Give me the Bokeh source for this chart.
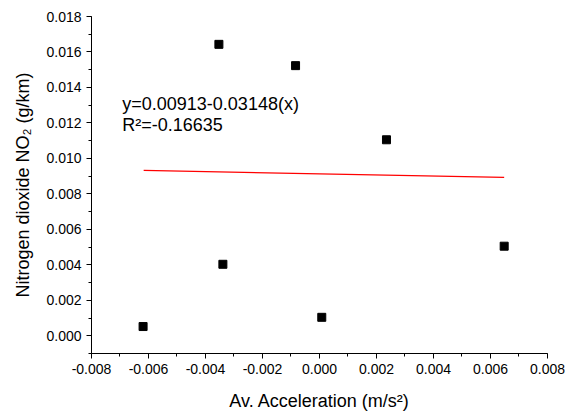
import numpy as np
from bokeh.plotting import figure
from bokeh.models import Range1d, SingleIntervalTicker, PrintfTickFormatter, Label
from bokeh.embed import file_html
from bokeh.resources import INLINE

# measured points: average acceleration vs NO2 emission
accel = [-0.00619, -0.00339, 0.00008, -0.00353, -0.00084, 0.00235, 0.00648]
no2 = [0.00052, 0.00403, 0.00104, 0.01643, 0.01523, 0.01105, 0.00505]

# end points of the fitted line, as drawn
fit_x = [-0.00617, 0.00648]
fit_y = [0.00932, 0.00893]

eq_text = "y=0.00913-0.03148(x)"
r2_text = "R\u00b2=-0.16635"

FONT = "Liberation Sans"

p = figure(frame_width=456, frame_height=337,
           x_range=Range1d(-0.008, 0.0080001), y_range=Range1d(-0.001, 0.0180001),
           output_backend="svg", toolbar_location=None,
           min_border_left=91, min_border_right=20,
           min_border_top=16, min_border_bottom=58)

p.scatter(accel, no2, marker="square", size=8, color="black")
p.line(fit_x, fit_y, color="red", line_width=1.2)

p.add_layout(Label(x=-0.00692, y=0.01308, text=eq_text, text_baseline="middle",
                   text_font=FONT, text_font_size="18px", text_color="black"))
p.add_layout(Label(x=-0.00692, y=0.01188, text=r2_text, text_baseline="middle",
                   text_font=FONT, text_font_size="18px", text_color="black"))

# axes look
p.grid.visible = False
p.outline_line_color = None
p.background_fill_color = "white"

p.xaxis.ticker = SingleIntervalTicker(interval=0.002, num_minor_ticks=2)
p.yaxis.ticker = SingleIntervalTicker(interval=0.002, num_minor_ticks=2)
p.xaxis.formatter = PrintfTickFormatter(format="%.3f")
p.yaxis.formatter = PrintfTickFormatter(format="%.3f")

p.xaxis.axis_label = "Av. Acceleration (m/s\u00b2)"
p.yaxis.axis_label = "Nitrogen dioxide NO\u2082 (g/km)"

for ax in (p.xaxis, p.yaxis):
    ax.axis_line_color = "black"
    ax.major_tick_line_color = "black"
    ax.minor_tick_line_color = "black"
    ax.major_tick_in = 0
    ax.major_tick_out = 5
    ax.minor_tick_in = 0
    ax.minor_tick_out = 3
    ax.major_label_text_font = FONT
    ax.major_label_text_font_size = "14px"
    ax.major_label_text_color = "black"
    ax.axis_label_text_font = FONT
    ax.axis_label_text_font_size = "18px"
    ax.axis_label_text_font_style = "normal"
    ax.axis_label_text_color = "black"

p.xaxis.major_label_standoff = 5
p.xaxis.axis_label_standoff = 14
p.yaxis.major_label_standoff = 5
p.yaxis.axis_label_standoff = 10

open("out.html", "w").write(file_html(p, INLINE))
